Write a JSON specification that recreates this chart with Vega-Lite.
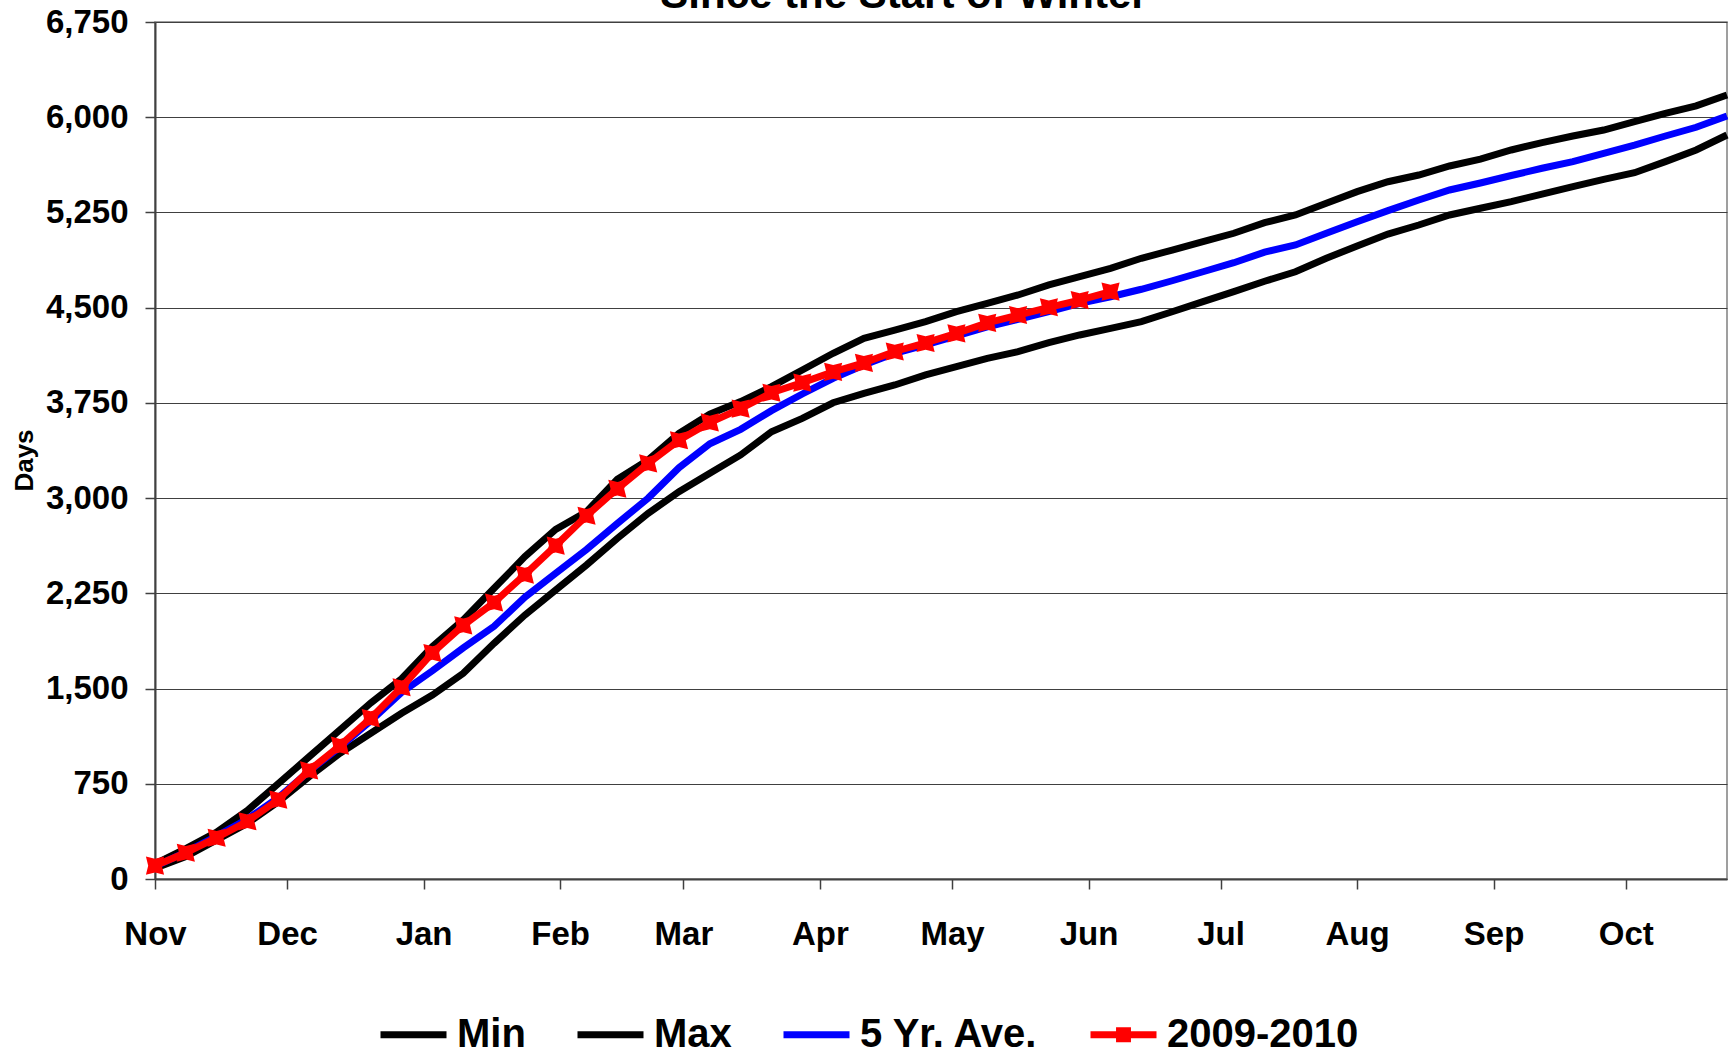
{
  "$schema": "https://vega.github.io/schema/vega-lite/v6.json",
  "width": 1572,
  "height": 857,
  "autosize": {"type": "none"},
  "padding": {"left": 155, "top": 22, "right": 2, "bottom": 175},
  "background": "white",
  "config": {"font": "Liberation Sans", "view": {"stroke": "#808080", "strokeWidth": 1.5}},
  "title": {"text": "Since the Start of Winter", "fontSize": 42, "font": "Liberation Sans", "fontWeight": "bold", "color": "black", "anchor": "middle", "frame": "group", "dx": -37, "dy": 11, "offset": 0},
  "data": {"values": [
    {"d": "2009-11-01", "mn": 84, "mx": 120, "av": 100, "cy": 105},
    {"d": "2009-11-08", "mn": 176, "mx": 240, "av": 212, "cy": 207},
    {"d": "2009-11-15", "mn": 307, "mx": 370, "av": 338, "cy": 325},
    {"d": "2009-11-22", "mn": 439, "mx": 540, "av": 473, "cy": 455},
    {"d": "2009-11-29", "mn": 609, "mx": 752, "av": 640, "cy": 625},
    {"d": "2009-12-06", "mn": 806, "mx": 963, "av": 850, "cy": 855},
    {"d": "2009-12-13", "mn": 990, "mx": 1174, "av": 1040, "cy": 1050},
    {"d": "2009-12-20", "mn": 1148, "mx": 1387, "av": 1245, "cy": 1267},
    {"d": "2009-12-27", "mn": 1305, "mx": 1577, "av": 1470, "cy": 1510},
    {"d": "2010-01-03", "mn": 1449, "mx": 1830, "av": 1640, "cy": 1780},
    {"d": "2010-01-10", "mn": 1620, "mx": 2040, "av": 1820, "cy": 1998},
    {"d": "2010-01-17", "mn": 1856, "mx": 2290, "av": 1990, "cy": 2178},
    {"d": "2010-01-24", "mn": 2079, "mx": 2539, "av": 2220, "cy": 2398},
    {"d": "2010-01-31", "mn": 2276, "mx": 2754, "av": 2408, "cy": 2626},
    {"d": "2010-02-07", "mn": 2473, "mx": 2893, "av": 2595, "cy": 2861},
    {"d": "2010-02-14", "mn": 2683, "mx": 3148, "av": 2800, "cy": 3074},
    {"d": "2010-02-21", "mn": 2880, "mx": 3300, "av": 3000, "cy": 3273},
    {"d": "2010-02-28", "mn": 3051, "mx": 3510, "av": 3240, "cy": 3456},
    {"d": "2010-03-07", "mn": 3195, "mx": 3662, "av": 3428, "cy": 3596},
    {"d": "2010-03-14", "mn": 3340, "mx": 3760, "av": 3542, "cy": 3705},
    {"d": "2010-03-21", "mn": 3523, "mx": 3878, "av": 3689, "cy": 3830},
    {"d": "2010-03-28", "mn": 3628, "mx": 4009, "av": 3820, "cy": 3910},
    {"d": "2010-04-04", "mn": 3751, "mx": 4141, "av": 3944, "cy": 3994},
    {"d": "2010-04-11", "mn": 3825, "mx": 4259, "av": 4049, "cy": 4065},
    {"d": "2010-04-18", "mn": 3891, "mx": 4324, "av": 4141, "cy": 4155},
    {"d": "2010-04-25", "mn": 3970, "mx": 4390, "av": 4206, "cy": 4222},
    {"d": "2010-05-02", "mn": 4035, "mx": 4468, "av": 4277, "cy": 4298},
    {"d": "2010-05-09", "mn": 4101, "mx": 4534, "av": 4348, "cy": 4380},
    {"d": "2010-05-16", "mn": 4153, "mx": 4600, "av": 4408, "cy": 4442},
    {"d": "2010-05-23", "mn": 4224, "mx": 4679, "av": 4468, "cy": 4503},
    {"d": "2010-05-30", "mn": 4285, "mx": 4744, "av": 4534, "cy": 4560},
    {"d": "2010-06-06", "mn": 4337, "mx": 4810, "av": 4586, "cy": 4626},
    {"d": "2010-06-13", "mn": 4390, "mx": 4889, "av": 4645},
    {"d": "2010-06-20", "mn": 4468, "mx": 4954, "av": 4712},
    {"d": "2010-06-27", "mn": 4547, "mx": 5020, "av": 4783},
    {"d": "2010-07-04", "mn": 4626, "mx": 5086, "av": 4854},
    {"d": "2010-07-11", "mn": 4708, "mx": 5170, "av": 4937},
    {"d": "2010-07-18", "mn": 4783, "mx": 5230, "av": 4994},
    {"d": "2010-07-25", "mn": 4889, "mx": 5322, "av": 5086},
    {"d": "2010-08-01", "mn": 4986, "mx": 5414, "av": 5177},
    {"d": "2010-08-08", "mn": 5080, "mx": 5492, "av": 5264},
    {"d": "2010-08-15", "mn": 5151, "mx": 5545, "av": 5348},
    {"d": "2010-08-22", "mn": 5230, "mx": 5616, "av": 5427},
    {"d": "2010-08-29", "mn": 5283, "mx": 5670, "av": 5482},
    {"d": "2010-09-05", "mn": 5335, "mx": 5742, "av": 5541},
    {"d": "2010-09-12", "mn": 5395, "mx": 5800, "av": 5598},
    {"d": "2010-09-19", "mn": 5453, "mx": 5852, "av": 5650},
    {"d": "2010-09-26", "mn": 5511, "mx": 5899, "av": 5716},
    {"d": "2010-10-03", "mn": 5563, "mx": 5965, "av": 5781},
    {"d": "2010-10-10", "mn": 5650, "mx": 6031, "av": 5852},
    {"d": "2010-10-17", "mn": 5742, "mx": 6089, "av": 5921},
    {"d": "2010-10-24", "mn": 5860, "mx": 6175, "av": 6010}
  ]},
  "transform": [{"fold": ["mn", "mx", "av", "cy"], "as": ["s", "v"]}],
  "encoding": {
    "x": {
      "field": "d", "type": "temporal", "title": null,
      "scale": {"type": "utc", "domain": [{"year": 2009, "month": 11, "date": 1, "utc": true}, {"year": 2010, "month": 10, "date": 24, "utc": true}]},
      "axis": {"format": "%b", "tickCount": {"interval": "month", "step": 1}, "labelAlign": "center", "labelFlush": false, "labelOverlap": false, "labelFontSize": 33, "labelFontWeight": "bold", "labelColor": "black", "labelFont": "Liberation Sans", "tickSize": 10, "tickColor": "#404040", "tickWidth": 1.5, "domainColor": "#404040", "domainWidth": 2, "labelPadding": 29, "grid": false}
    },
    "y": {
      "field": "v", "type": "quantitative",
      "scale": {"domain": [0, 6750]},
      "axis": {"values": [0, 750, 1500, 2250, 3000, 3750, 4500, 5250, 6000, 6750], "format": ",.0f", "labelFontSize": 33, "labelFontWeight": "bold", "labelColor": "black", "labelFont": "Liberation Sans", "tickSize": 10, "tickColor": "#404040", "tickWidth": 1.5, "domainColor": "#404040", "domainWidth": 2, "gridColor": "#404040", "gridWidth": 1, "labelPadding": 17, "title": "Days", "titleFontSize": 26, "titleFontWeight": "bold", "titleColor": "black", "titleFont": "Liberation Sans", "titleX": -131, "titleY": 438, "titleAngle": -90, "titleBaseline": "middle", "titleAlign": "center"}
    },
    "color": {
      "field": "s", "type": "nominal",
      "scale": {"domain": ["mn", "mx", "av", "cy"], "range": ["#000000", "#000000", "#0000FF", "#FF0000"]},
      "legend": {"orient": "none", "legendX": 222, "legendY": 976, "direction": "horizontal", "columns": 4, "title": null, "symbolType": "stroke", "symbolSize": 4356, "symbolStrokeWidth": 7, "labelFontSize": 40, "labelFont": "Liberation Sans", "labelFontWeight": "bold", "labelColor": "black", "labelOffset": 7, "columnPadding": 37, "labelLimit": 600,
        "labelExpr": "datum.label == 'mn' ? 'Min' : datum.label == 'mx' ? 'Max' : datum.label == 'av' ? '5 Yr. Ave.' : '2009-2010'",
        "encode": {"symbols": {"update": {"shape": {"signal": "datum.value == 'cy' ? 'M-1,0H1M-0.12,-0.12H0.12V0.12H-0.12Z' : 'stroke'"}}}}}
    }
  },
  "layer": [
    {"transform": [{"filter": "datum.s != 'cy'"}], "mark": {"type": "line", "strokeWidth": 7}},
    {"transform": [{"filter": "datum.s == 'cy'"}], "mark": {"type": "line", "strokeWidth": 7, "point": {"shape": "M-1,-1L0,-0.75L1,-1L0.75,0L1,1L0,0.75L-1,1L-0.75,0Z", "size": 330, "filled": true, "opacity": 1}}}
  ]
}
